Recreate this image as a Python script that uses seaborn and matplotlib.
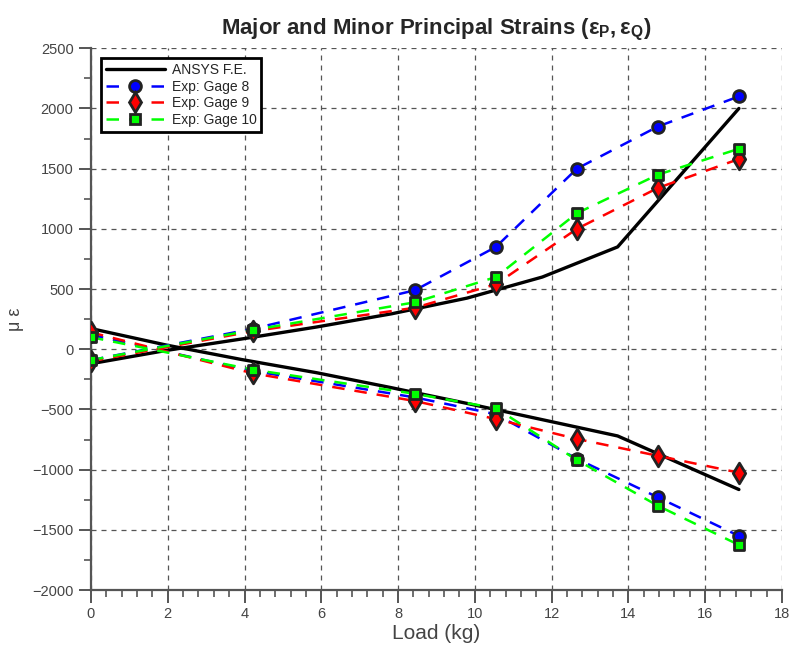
import matplotlib
matplotlib.use("Agg")
import matplotlib.pyplot as plt
from matplotlib.lines import Line2D
from matplotlib.ticker import MultipleLocator
import numpy as np
import pandas as pd
import seaborn as sns

# Applied loads for the strain-gage measurements (kg)
load_exp = [0, 4.22, 8.44, 10.55, 12.66, 14.77, 16.88]

# Measured principal strains (micro-strain)
gage8_major = [-90, 170, 490, 850, 1500, 1850, 2100]
gage8_minor = [120, -180, -400, -540, -910, -1230, -1550]
gage9_major = [-100, 150, 345, 540, 1000, 1340, 1580]
gage9_minor = [140, -200, -430, -580, -745, -885, -1025]
gage10_major = [-90, 160, 390, 600, 1130, 1450, 1665]
gage10_minor = [100, -170, -370, -490, -920, -1300, -1625]

# Finite-element prediction
load_fe = [0, 1.96, 3.92, 5.88, 7.84, 9.8, 11.76, 13.72, 16.88]
fe_major = [-120, -10, 85, 185, 295, 425, 600, 850, 2000]
fe_minor = [172, 35, -85, -195, -320, -450, -585, -720, -1165]

sns.set_theme(style="white")
plt.rcParams["font.family"] = ["Liberation Sans", "DejaVu Sans"]
plt.rcParams["mathtext.fontset"] = "custom"
plt.rcParams["mathtext.rm"] = "Liberation Sans"
plt.rcParams["mathtext.bf"] = "Liberation Sans:bold"
plt.rcParams["mathtext.it"] = "Liberation Sans:italic"

fig = plt.figure(figsize=(7.89, 6.52), dpi=100)
ax = fig.add_axes([0.1153, 0.095, 0.8757, 0.831])

grid_color = "#555555"
for v in np.arange(0, 18.01, 2):
    ax.axvline(v, color=grid_color, lw=0.9, ls=(0, (4, 4)), zorder=0)
for v in np.arange(-2000, 2501, 500):
    ax.axhline(v, color=grid_color, lw=0.9, ls=(0, (4, 4)), zorder=0)

# FE curves
for vals in (fe_major, fe_minor):
    df = pd.DataFrame({"load": load_fe, "strain": vals})
    sns.lineplot(data=df, x="load", y="strain", ax=ax, color="black",
                 lw=2.4, sort=False, zorder=3)

series = [
    ("Exp: Gage 8", gage8_major, gage8_minor, "#0000ff", "o", 8.5),
    ("Exp: Gage 9", gage9_major, gage9_minor, "#ff0000", "d", 10.5),
    ("Exp: Gage 10", gage10_major, gage10_minor, "#00ff00", "s", 7.5),
]
for name, major, minor, col, mk, ms in series:
    for vals in (major, minor):
        df = pd.DataFrame({"load": load_exp, "strain": vals})
        sns.lineplot(data=df, x="load", y="strain", ax=ax, color=col,
                     lw=1.8, ls=(0, (5, 4)), sort=False, zorder=4)
        sns.scatterplot(data=df, x="load", y="strain", ax=ax, color=col,
                        marker=mk, s=ms ** 2, edgecolor="#222222",
                        linewidth=2.0, zorder=5)

ax.set_xlim(0, 18)
ax.set_ylim(-2000, 2500)
ax.xaxis.set_major_locator(MultipleLocator(2))
ax.xaxis.set_minor_locator(MultipleLocator(0.4))
ax.yaxis.set_major_locator(MultipleLocator(500))
ax.yaxis.set_minor_locator(MultipleLocator(250))

for side in ("top", "right"):
    ax.spines[side].set_visible(False)
for side in ("left", "bottom"):
    ax.spines[side].set_color("#555555")
    ax.spines[side].set_linewidth(1.6)

ax.tick_params(which="major", direction="out", length=9, width=1.4,
               color="#555555", labelcolor="#444444", labelsize=10.5,
               bottom=True, left=True)
ax.tick_params(which="minor", direction="out", length=5, width=1.2,
               color="#555555", bottom=True, left=True)
yt = np.arange(-2000, 2501, 500)
ax.set_yticks(yt)
ax.set_yticklabels([("\u2212" + str(abs(v))) if v < 0 else str(v) for v in yt])

ax.set_xlabel("Load (kg)", fontsize=15, color="#444444", labelpad=2)
ax.set_ylabel("\u03bc \u03b5", fontsize=13, color="#444444", labelpad=6)
ax.set_title(r"Major and Minor Principal Strains ($\mathbf{\varepsilon_{P}, \varepsilon_{Q}}$)",
             fontsize=16, fontweight="bold", pad=10)

handles = [
    Line2D([], [], color="black", lw=2.4),
]
for name, major, minor, col, mk, ms in series:
    handles.append(Line2D([], [], color=col, lw=1.8, ls=(0, (5, 4)),
                          marker=mk, markersize=ms, markerfacecolor=col,
                          markeredgecolor="#222222", markeredgewidth=2.0))
labels = ["ANSYS F.E."] + [s[0] for s in series]
leg = ax.legend(handles, labels, loc="upper left",
                bbox_to_anchor=(0.005, 0.995), fontsize=10,
                frameon=True, fancybox=False, handlelength=4.2,
                borderpad=0.35, labelspacing=0.2, handletextpad=0.5)
leg.get_frame().set_edgecolor("black")
leg.get_frame().set_linewidth(2.0)
leg.get_frame().set_alpha(1)

fig.savefig("out.png", dpi=100)
